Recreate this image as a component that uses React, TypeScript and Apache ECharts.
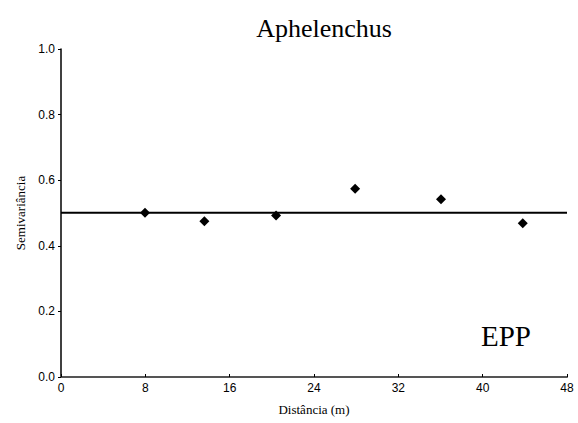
import React, { useEffect, useRef } from "react";
import * as echarts from "echarts";

const distances = [7.97, 13.6, 20.4, 27.9, 36.05, 43.8];
const semivariance = [0.501, 0.475, 0.492, 0.574, 0.542, 0.469];
const modelLine = [[0, 0.501], [48, 0.501]];
const xTicks = [0, 8, 16, 24, 32, 40, 48];
const yTicks = [0, 0.2, 0.4, 0.6, 0.8, 1.0];

export default function App() {
  const ref = useRef<HTMLDivElement>(null);
  useEffect(() => {
    const chart = echarts.init(ref.current!, null, { renderer: "svg" });
    const serif = "'Liberation Serif', 'DejaVu Serif', serif";
    const sans = "'Liberation Sans', Arial, sans-serif";
    chart.setOption({
      animation: false,
      backgroundColor: "#fff",
      title: [
        {
          text: "Aphelenchus",
          left: 319,
          top: 10,
          textAlign: "center",
          textStyle: { fontFamily: serif, fontSize: 26, fontWeight: "normal", color: "#000" },
        },
        {
          text: "EPP",
          left: 501,
          top: 316,
          textAlign: "center",
          textStyle: { fontFamily: serif, fontSize: 29, fontWeight: "normal", color: "#000" },
        },
      ],
      grid: { left: 61, right: 11, top: 49, bottom: 46, containLabel: false },
      xAxis: {
        type: "value",
        min: 0,
        max: 48,
        interval: 8,
        name: "Distância (m)",
        nameLocation: "middle",
        nameGap: 26,
        nameTextStyle: { fontFamily: serif, fontSize: 13, color: "#000" },
        axisLine: { lineStyle: { color: "#555", width: 2 } },
        axisTick: { inside: true, length: 3, lineStyle: { color: "#000" } },
        axisLabel: {
          fontFamily: sans,
          fontSize: 12,
          color: "#000",
          margin: 5,
          formatter: (v: number) => (xTicks.includes(v) ? String(v) : ""),
        },
        splitLine: { show: false },
      },
      yAxis: {
        type: "value",
        min: 0,
        max: 1,
        interval: 0.2,
        name: "Semivariância",
        nameLocation: "middle",
        nameGap: 34,
        nameTextStyle: { fontFamily: serif, fontSize: 13, color: "#000" },
        axisLine: { show: true, lineStyle: { color: "#000", width: 1.5 } },
        axisTick: { show: true, length: 3, lineStyle: { color: "#000" } },
        axisLabel: {
          fontFamily: sans,
          fontSize: 12,
          color: "#000",
          margin: 6,
          formatter: (v: number) => {
            const t = yTicks.find((y) => Math.abs(y - v) < 1e-9);
            return t === undefined ? "" : t.toFixed(1);
          },
        },
        splitLine: { show: false },
      },
      series: [
        {
          type: "line",
          data: modelLine,
          symbol: "none",
          lineStyle: { color: "#000", width: 2 },
          z: 2,
        },
        {
          type: "scatter",
          data: distances.map((d, i) => [d, semivariance[i]]),
          symbol: "diamond",
          symbolSize: 10,
          itemStyle: { color: "#000", opacity: 1 },
          z: 3,
        },
      ],
    });
    return () => chart.dispose();
  }, []);
  return <div ref={ref} style={{ width: 578, height: 423, position: "absolute", left: 0, top: 0 }} />;
}
